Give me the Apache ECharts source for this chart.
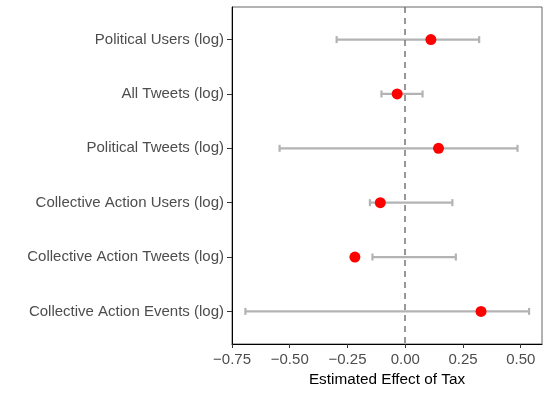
<!DOCTYPE html>
<html>
<head>
<meta charset="utf-8">
<script src="https://cdn.jsdelivr.net/npm/echarts@6/dist/echarts.min.js"></script>
<style>
  html, body { margin: 0; padding: 0; background: #fff; }
  #chart { width: 550px; height: 393px; }
</style>
</head>
<body>
<div id="chart"></div>
<script>
// outcomes, top to bottom
const outcomes = ['Political Users (log)', 'All Tweets (log)', 'Political Tweets (log)',
  'Collective Action Users (log)', 'Collective Action Tweets (log)', 'Collective Action Events (log)'];
const estimates = [0.111, -0.035, 0.144, -0.108, -0.218, 0.328];
const ciLow = [-0.297, -0.103, -0.544, -0.153, -0.142, -0.692];
const ciHigh = [0.320, 0.075, 0.486, 0.204, 0.219, 0.536];
const xTicks = [-0.75, -0.5, -0.25, 0, 0.25, 0.5];

const chart = echarts.init(document.getElementById('chart'));

const barData = outcomes.map((o, i) => [ciLow[i], ciHigh[i], i + 1]);
const pointData = outcomes.map((o, i) => [estimates[i], i + 1]);

chart.setOption({
  animation: false,
  grid: {
    left: 232, right: 8, top: 7, bottom: 49,
    show: true, borderColor: '#666', borderWidth: 1
  },
  xAxis: {
    type: 'value',
    min: -0.75, max: 0.592,
    splitLine: { show: false },
    axisLine: { show: true, onZero: false, lineStyle: { color: '#000', width: 1 } },
    axisTick: { show: true, length: 4, customValues: xTicks, lineStyle: { color: '#333' } },
    axisLabel: {
      customValues: xTicks,
      color: '#4d4d4d', fontSize: 15, fontFamily: 'Liberation Sans', margin: 8,
      formatter: v => v.toFixed(2).replace('-', '\u2212')
    },
    name: 'Estimated Effect of Tax',
    nameLocation: 'middle', nameGap: 27,
    nameTextStyle: { color: '#000', fontSize: 15.3, fontFamily: 'Liberation Sans' }
  },
  yAxis: {
    type: 'value',
    min: 0.4, max: 6.6, inverse: true,
    splitLine: { show: false },
    axisLine: { show: true, onZero: false, lineStyle: { color: '#000', width: 1 } },
    axisTick: { show: true, length: 5, customValues: [1, 2, 3, 4, 5, 6], lineStyle: { color: '#333' } },
    axisLabel: {
      customValues: [1, 2, 3, 4, 5, 6],
      color: '#4d4d4d', fontSize: 15, fontFamily: 'Liberation Sans', margin: 8,
      formatter: v => outcomes[Math.round(v) - 1] || ''
    }
  },
  series: [
    {
      type: 'custom',
      data: barData,
      encode: { x: [0, 1], y: 2 },
      renderItem: function (params, api) {
        const y = api.value(2);
        const p1 = api.coord([api.value(0), y]);
        const p2 = api.coord([api.value(1), y]);
        const h = 3.5;
        const st = { stroke: '#b3b3b3', lineWidth: 2.2, fill: null };
        return {
          type: 'group',
          children: [
            { type: 'line', shape: { x1: p1[0], y1: p1[1], x2: p2[0], y2: p2[1] }, style: st },
            { type: 'line', shape: { x1: p1[0], y1: p1[1] - h, x2: p1[0], y2: p1[1] + h }, style: st },
            { type: 'line', shape: { x1: p2[0], y1: p2[1] - h, x2: p2[0], y2: p2[1] + h }, style: st }
          ]
        };
      },
      markLine: {
        silent: true, symbol: 'none', label: { show: false },
        lineStyle: { color: '#777', type: [6, 5], width: 1.5 },
        data: [{ xAxis: 0 }]
      },
      z: 2
    },
    {
      type: 'scatter',
      data: pointData,
      symbol: 'circle', symbolSize: 11,
      itemStyle: { color: '#ff0000', opacity: 1 },
      z: 3
    }
  ]
});
</script>
</body>
</html>
